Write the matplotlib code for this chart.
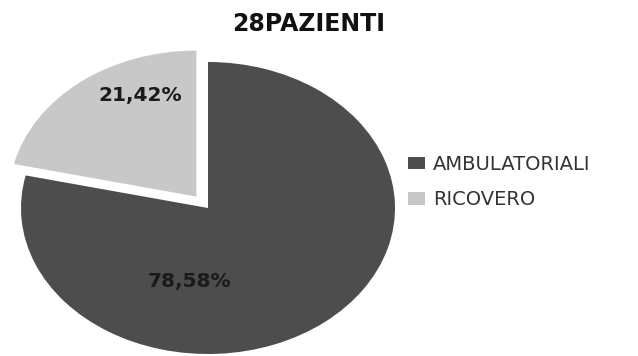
import matplotlib.pyplot as plt
from matplotlib.patches import Patch

categories = ["AMBULATORIALI", "RICOVERO"]
values = [78.58, 21.42]
value_labels = ["78,58%", "21,42%"]
colors = ["#4d4d4d", "#c8c8c8"]
title = "28PAZIENTI"

fig = plt.figure(figsize=(6.38, 3.56), dpi=100)
ax = fig.add_axes([0, 0, 1, 1])

wedges, _ = ax.pie(values, colors=colors, startangle=90, counterclock=False,
                   explode=[0, 0.1], radius=1.0)
ax.set_aspect("auto")
ax.set_xlim(-208 / 187, (638 - 208) / 187)
ax.set_ylim(-148 / 146, 208 / 146)
ax.axis("off")

# percentage labels placed inside each slice
ax.text(-0.10, -0.50, value_labels[0], ha="center", va="center",
        fontsize=14.5, fontweight="bold", color="#1a1a1a")
ax.text(-0.36, 0.77, value_labels[1], ha="center", va="center",
        fontsize=14.5, fontweight="bold", color="#1a1a1a")

fig.text(309 / 638, 1 - 24 / 356, title, ha="center", va="center",
         fontsize=17, fontweight="bold", color="#111111")

handles = [Patch(facecolor=c, edgecolor="none") for c in colors]
fig.legend(handles, categories, loc="center left",
           bbox_to_anchor=(408 / 638, 1 - 182 / 356), frameon=False,
           fontsize=14, handlelength=0.88, handleheight=0.62,
           handletextpad=0.4, labelspacing=0.85, borderpad=0,
           borderaxespad=0, labelcolor="#333333")

fig.savefig("out.png", dpi=100)
